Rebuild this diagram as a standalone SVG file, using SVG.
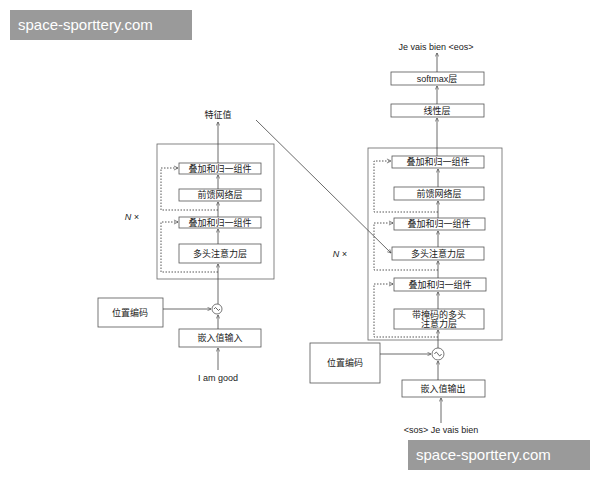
<svg xmlns="http://www.w3.org/2000/svg" width="600" height="480" viewBox="0 0 600 480">
<style>
text{font-family:"Liberation Sans","Noto Sans CJK SC",sans-serif;font-size:9px;fill:#222;text-anchor:middle}
.b{fill:#fff;stroke:#555;stroke-width:0.8}
.o{fill:none;stroke:#666;stroke-width:0.8}
.l{fill:none;stroke:#444;stroke-width:0.8}
.d{fill:none;stroke:#444;stroke-width:0.9;stroke-dasharray:1.5 1.5}
.wm{fill:#9a9a9a}
.wt{fill:#fff;font-size:15px;text-anchor:start}
</style>
<defs>
<marker id="a" viewBox="0 0 8 8" refX="7" refY="4" markerWidth="6" markerHeight="6" orient="auto"><path d="M1,1 L7,4 L1,7" fill="none" stroke="#444" stroke-width="1"/></marker>
</defs>
<rect width="600" height="480" fill="#fff"/>
<rect class="wm" x="10" y="10" width="182" height="30"/>
<text class="wt" x="18" y="30">space-sporttery.com</text>
<rect class="wm" x="408" y="440" width="182" height="30"/>
<text class="wt" x="416" y="460">space-sporttery.com</text>

<g id="encoder">
<rect class="o" x="157" y="144" width="117" height="135"/>
<text x="132" y="220" font-style="italic">N ×</text>
<text x="218" y="118">特征值</text>
<g id="e-add1"><rect class="b" x="179" y="163" width="82" height="11"/><text x="220" y="172">叠加和归一组件</text></g>
<g id="e-ff"><rect class="b" x="179" y="189" width="82" height="12"/><text x="220" y="198">前馈网络层</text></g>
<g id="e-add2"><rect class="b" x="179" y="217" width="82" height="11"/><text x="220" y="226">叠加和归一组件</text></g>
<g id="e-mha"><rect class="b" x="179" y="244" width="82" height="19"/><text x="220" y="257">多头注意力层</text></g>
<g id="e-pos"><rect class="b" x="98" y="298" width="65" height="29"/><text x="130" y="316">位置编码</text></g>
<g id="e-sum"><circle class="b" cx="217" cy="309" r="5"/><path class="l" d="M214,309 q1.5,-3 3,0 t3,0"/></g>
<g id="e-emb"><rect class="b" x="179" y="329" width="82" height="18"/><text x="220" y="341">嵌入值输入</text></g>
<text x="218" y="381">I am good</text>
</g>

<g id="decoder">
<rect class="o" x="368" y="148" width="134" height="192"/>
<text x="340" y="257" font-style="italic">N ×</text>
<text x="436" y="50">Je vais bien &lt;eos&gt;</text>
<g id="d-soft"><rect class="b" x="391" y="72" width="93" height="13"/><text x="437" y="81.5">softmax层</text></g>
<g id="d-lin"><rect class="b" x="391" y="104" width="93" height="13"/><text x="437" y="113.5">线性层</text></g>
<g id="d-add1"><rect class="b" x="392" y="156" width="92" height="12"/><text x="438" y="165">叠加和归一组件</text></g>
<g id="d-ff"><rect class="b" x="394" y="187" width="90" height="13"/><text x="439" y="196.5">前馈网络层</text></g>
<g id="d-add2"><rect class="b" x="394" y="218" width="91" height="12"/><text x="439" y="227">叠加和归一组件</text></g>
<g id="d-mha"><rect class="b" x="392" y="247" width="92" height="13"/><text x="438" y="256.5">多头注意力层</text></g>
<g id="d-add3"><rect class="b" x="394" y="278" width="92" height="13"/><text x="440" y="287.5">叠加和归一组件</text></g>
<g id="d-mmha"><rect class="b" x="394" y="309" width="90" height="20"/><text x="439" y="318">带掩码的多头</text><text x="439" y="327">注意力层</text></g>
<g id="d-pos"><rect class="b" x="310" y="343" width="70" height="40"/><text x="345" y="366">位置编码</text></g>
<g id="d-sum"><circle class="b" cx="438" cy="354" r="6"/><path class="l" d="M434.5,354 q1.75,-3.5 3.5,0 t3.5,0"/></g>
<g id="d-emb"><rect class="b" x="402" y="380" width="83" height="17"/><text x="443" y="391.5">嵌入值输出</text></g>
<text x="441" y="433">&lt;sos&gt; Je vais bien</text>
</g>

<g id="connectors">
<line class="l" x1="218" y1="370" x2="218" y2="348" marker-end="url(#a)"/>
<line class="l" x1="218" y1="329" x2="218" y2="315" marker-end="url(#a)"/>
<line class="l" x1="163" y1="309" x2="211" y2="309" marker-end="url(#a)"/>
<line class="l" x1="218" y1="304" x2="218" y2="264" marker-end="url(#a)"/>
<line class="l" x1="218" y1="244" x2="218" y2="229" marker-end="url(#a)"/>
<line class="l" x1="218" y1="217" x2="218" y2="202" marker-end="url(#a)"/>
<line class="l" x1="218" y1="189" x2="218" y2="175" marker-end="url(#a)"/>
<line class="l" x1="218" y1="163" x2="218" y2="122" marker-end="url(#a)"/>
<path class="d" d="M218,272 H161 V222 H178" marker-end="url(#a)"/>
<path class="d" d="M218,210 H161 V168 H178" marker-end="url(#a)"/>

<line class="l" x1="441" y1="423" x2="441" y2="398" marker-end="url(#a)"/>
<line class="l" x1="438" y1="380" x2="438" y2="361" marker-end="url(#a)"/>
<line class="l" x1="380" y1="354" x2="431" y2="354" marker-end="url(#a)"/>
<line class="l" x1="438" y1="348" x2="438" y2="330" marker-end="url(#a)"/>
<line class="l" x1="438" y1="309" x2="438" y2="292" marker-end="url(#a)"/>
<line class="l" x1="438" y1="278" x2="438" y2="261" marker-end="url(#a)"/>
<line class="l" x1="438" y1="247" x2="438" y2="231" marker-end="url(#a)"/>
<line class="l" x1="438" y1="218" x2="438" y2="201" marker-end="url(#a)"/>
<line class="l" x1="438" y1="187" x2="438" y2="169" marker-end="url(#a)"/>
<line class="l" x1="437" y1="156" x2="437" y2="118" marker-end="url(#a)"/>
<line class="l" x1="437" y1="104" x2="437" y2="86" marker-end="url(#a)"/>
<line class="l" x1="437" y1="72" x2="437" y2="53" marker-end="url(#a)"/>
<path class="d" d="M438,337 H374 V284 H393" marker-end="url(#a)"/>
<path class="d" d="M438,270 H374 V223 H393" marker-end="url(#a)"/>
<path class="d" d="M438,212 H374 V161 H391" marker-end="url(#a)"/>
<line class="l" x1="256" y1="120" x2="391" y2="253" marker-end="url(#a)"/>
</g>
</svg>
